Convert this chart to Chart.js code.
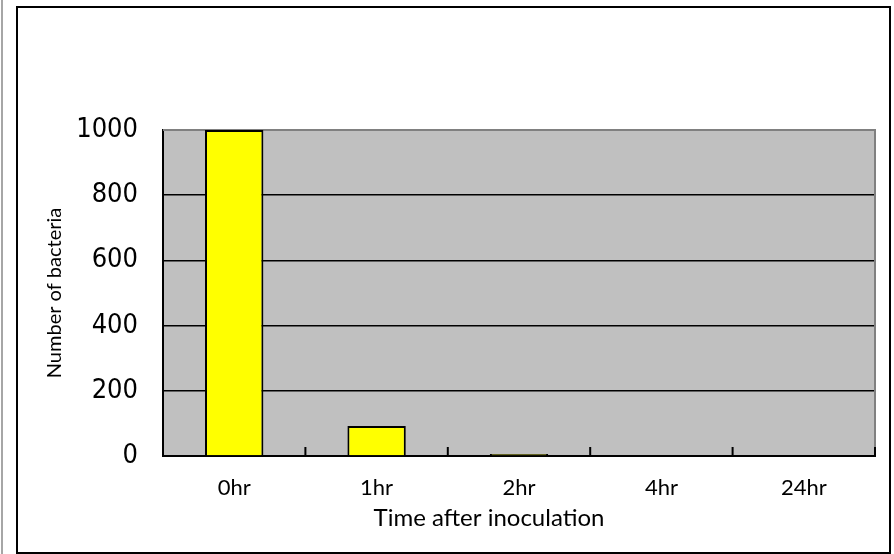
<!DOCTYPE html>
<html>
<head>
<meta charset="utf-8">
<script src="https://cdn.jsdelivr.net/npm/chart.js@4"></script>
<style>
  html, body { margin: 0; padding: 0; background: #ffffff; }
  #wrap { width: 894px; height: 554px; position: relative; }
</style>
</head>
<body>
<div id="wrap"><canvas id="c" width="894" height="554"></canvas></div>
<script>
const categories = ['0hr', '1hr', '2hr', '4hr', '24hr'];
const bacteriaCounts = [1000, 92, 6, 0, 0];
const yTicks = [0, 200, 400, 600, 800, 1000];
const xTitle = 'Time after inoculation';
const yTitle = 'Number of bacteria';

const framePlugin = {
  id: 'frame',
  beforeDraw(chart) {
    const ctx = chart.ctx;
    const a = chart.chartArea;
    ctx.save();
    ctx.fillStyle = '#ffffff';
    ctx.fillRect(0, 0, chart.width, chart.height);
    ctx.fillStyle = '#a6a6a6';
    ctx.fillRect(1, 0, 2, chart.height);
    ctx.strokeStyle = '#000000';
    ctx.lineWidth = 2;
    ctx.strokeRect(17, 7, 873, 546);
    ctx.fillStyle = '#c0c0c0';
    ctx.fillRect(a.left, a.top, a.right - a.left, a.bottom - a.top);
    ctx.restore();
  },
  beforeDatasetsDraw(chart) {
    const ctx = chart.ctx;
    const a = chart.chartArea;
    const xs = chart.scales.x;
    ctx.save();
    ctx.strokeStyle = '#808080';
    ctx.lineWidth = 2;
    ctx.beginPath();
    ctx.moveTo(a.left, a.top);
    ctx.lineTo(a.right, a.top);
    ctx.lineTo(a.right, a.bottom);
    ctx.stroke();
    ctx.strokeStyle = '#000000';
    ctx.lineWidth = 2;
    const n = categories.length;
    const half = (xs.getPixelForValue(1) - xs.getPixelForValue(0)) / 2;
    ctx.beginPath();
    for (let i = 0; i < n; i++) {
      const bx = xs.getPixelForValue(i) + half;
      ctx.moveTo(bx, a.bottom);
      ctx.lineTo(bx, a.bottom - 9);
    }
    ctx.stroke();
    ctx.restore();
  },
  afterDraw(chart) {
    const ctx = chart.ctx;
    ctx.save();
    ctx.fillStyle = '#000000';
    ctx.font = '24px Lato, "Open Sans", sans-serif';
    ctx.textAlign = 'center';
    ctx.textBaseline = 'alphabetic';
    ctx.fillText(xTitle, 489, 526);
    ctx.restore();
  }
};

new Chart(document.getElementById('c'), {
  type: 'bar',
  data: {
    labels: categories,
    datasets: [{
      data: bacteriaCounts,
      backgroundColor: '#ffff00',
      borderColor: '#000000',
      borderWidth: 2,
      barPercentage: 0.41,
      categoryPercentage: 1.0
    }]
  },
  options: {
    responsive: false,
    animation: false,
    devicePixelRatio: 1,
    layout: { padding: { top: 130, right: 19, left: 0, bottom: 0 } },
    plugins: { legend: { display: false }, tooltip: { enabled: false } },
    scales: {
      x: {
        afterFit(scale) { scale.height = 98; },
        grid: { display: false, drawTicks: false },
        border: { display: true, color: '#000000', width: 2 },
        ticks: {
          color: '#000000',
          font: { family: 'Lato, "Open Sans", sans-serif', size: 22 },
          padding: 19
        }
      },
      y: {
        min: 0,
        max: 1000,
        afterFit(scale) { scale.width = 163; },
        afterBuildTicks(scale) { scale.ticks = yTicks.map(v => ({ value: v })); },
        grid: {
          drawTicks: false,
          color: (c) => (c.tick && c.tick.value === 1000 ? 'rgba(0,0,0,0)' : '#000000'),
          lineWidth: 1.5
        },
        border: { display: true, color: '#000000', width: 2 },
        ticks: {
          color: '#000000',
          callback: (v) => String(v),
          font: { family: '"DejaVu Sans Condensed", "Liberation Sans Narrow", "DejaVu Sans", sans-serif', weight: '400 condensed', size: 27 },
          padding: 25
        },
        title: {
          display: true,
          text: yTitle,
          color: '#000000',
          font: { family: 'Lato, "Open Sans", sans-serif', size: 20 },
          padding: { top: 43, bottom: 0 }
        }
      }
    }
  },
  plugins: [framePlugin]
});
</script>
</body>
</html>
